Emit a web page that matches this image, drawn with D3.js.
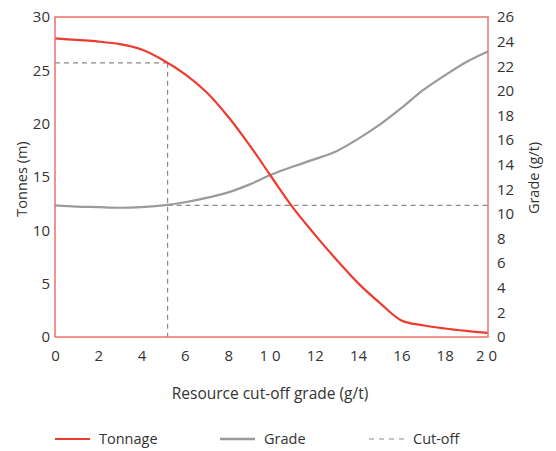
<!DOCTYPE html>
<html><head><meta charset="utf-8">
<script src="https://cdn.jsdelivr.net/npm/d3@7"></script>
<style>body{margin:0;background:#fff}svg{display:block;font-family:"Open Sans",sans-serif}</style>
</head><body><svg id="c" width="556" height="451"></svg>
<script>
const cutoffGrades = [0,1,2,3,4,5,6,7,8,9,10,11,12,13,14,15,16,17,18,19,20];
const tonnage = [28.0,27.85,27.7,27.45,26.95,25.95,24.65,22.95,20.65,17.95,15.0,12.1,9.6,7.25,5.05,3.2,1.55,1.1,0.8,0.57,0.38];
const grade = [10.7,10.6,10.55,10.5,10.55,10.7,10.95,11.3,11.75,12.4,13.2,13.85,14.45,15.1,16.1,17.25,18.6,20.05,21.25,22.35,23.2];
const cutoffValue = 5.2, cutoffTonnage = 25.7, cutoffGrade = 10.7;
const xTicks = [0,2,4,6,8,10,12,14,16,18,20];
const yLeftTicks = [0,5,10,15,20,25,30];
const yRightTicks = [0,2,4,6,8,10,12,14,16,18,20,22,24,26];
const legendItems = ["Tonnage","Grade","Cut-off"];

const svg = d3.select("#c");
const m = {l:55, r:488, t:17, b:337};
const x = d3.scaleLinear().domain([0,20]).range([m.l,m.r]);
const yL = d3.scaleLinear().domain([0,30]).range([m.b,m.t]);
const yR = d3.scaleLinear().domain([0,26]).range([m.b,m.t]);
const red = "#ee3b2f", frame = "#f07068", grey = "#9a9a9c", dash = "#8a8a8a", txt = "#333";

// axes
const ax = svg.append("g").attr("transform",`translate(0,${m.b})`)
  .call(d3.axisBottom(x).tickValues(xTicks).tickSize(0).tickPadding(13));
ax.selectAll("text").filter(d=>d>=10 && d%10===0).attr("letter-spacing","4px");
const al = svg.append("g").attr("transform",`translate(${m.l},0)`)
  .call(d3.axisLeft(yL).tickValues(yLeftTicks).tickSize(0).tickPadding(5));
const ar = svg.append("g").attr("transform",`translate(${m.r},0)`)
  .call(d3.axisRight(yR).tickValues(yRightTicks).tickSize(0).tickPadding(9));
[ax,al,ar].forEach(g=>{g.select(".domain").remove();g.selectAll("text").attr("font-size",15).attr("fill",txt).attr("font-family","Open Sans");});

// cut-off dashed lines
const dl = svg.append("g").attr("stroke",dash).attr("stroke-width",1.2).attr("stroke-dasharray","5,4").attr("fill","none");
dl.append("line").attr("x1",x(0)).attr("x2",x(cutoffValue)).attr("y1",yL(cutoffTonnage)).attr("y2",yL(cutoffTonnage));
dl.append("line").attr("x1",x(cutoffValue)).attr("x2",x(cutoffValue)).attr("y1",yL(cutoffTonnage)).attr("y2",m.b);
dl.append("line").attr("x1",x(cutoffValue)).attr("x2",x(20)).attr("y1",yR(cutoffGrade)).attr("y2",yR(cutoffGrade));

// lines
const curve = d3.curveCatmullRom.alpha(0.5);
const lg = d3.line().x((d,i)=>x(cutoffGrades[i])).y(d=>yR(d)).curve(curve);
const lt = d3.line().x((d,i)=>x(cutoffGrades[i])).y(d=>yL(d)).curve(curve);
svg.append("path").attr("d",lg(grade)).attr("fill","none").attr("stroke",grey).attr("stroke-width",2.2);
svg.append("path").attr("d",lt(tonnage)).attr("fill","none").attr("stroke",red).attr("stroke-width",2.2);

// frame
svg.append("rect").attr("x",m.l).attr("y",m.t).attr("width",m.r-m.l).attr("height",m.b-m.t)
  .attr("fill","none").attr("stroke",frame).attr("stroke-width",1.5);

// axis titles
svg.append("text").attr("x",270).attr("y",399).attr("text-anchor","middle").attr("font-size",15.5).attr("fill",txt).text("Resource cut-off grade (g/t)");
svg.append("text").attr("transform","translate(27,179) rotate(-90)").attr("text-anchor","middle").attr("font-size",14.5).attr("fill",txt).text("Tonnes (m)");
svg.append("text").attr("transform","translate(539,178) rotate(-90)").attr("text-anchor","middle").attr("font-size",14.5).attr("fill",txt).text("Grade (g/t)");

// legend
const lx = [55,220,369];
const leg = svg.append("g");
legendItems.forEach((name,i)=>{
  const l = leg.append("line").attr("x1",lx[i]).attr("x2",lx[i]+35).attr("y1",439).attr("y2",439);
  if(i===0) l.attr("stroke",red).attr("stroke-width",2.2);
  if(i===1) l.attr("stroke",grey).attr("stroke-width",2.5);
  if(i===2) l.attr("stroke",dash).attr("stroke-width",1.2).attr("stroke-dasharray","5,5");
  leg.append("text").attr("x",lx[i]+44).attr("y",444).attr("font-size",14.5).attr("fill",txt).text(name);
});
</script></body></html>
